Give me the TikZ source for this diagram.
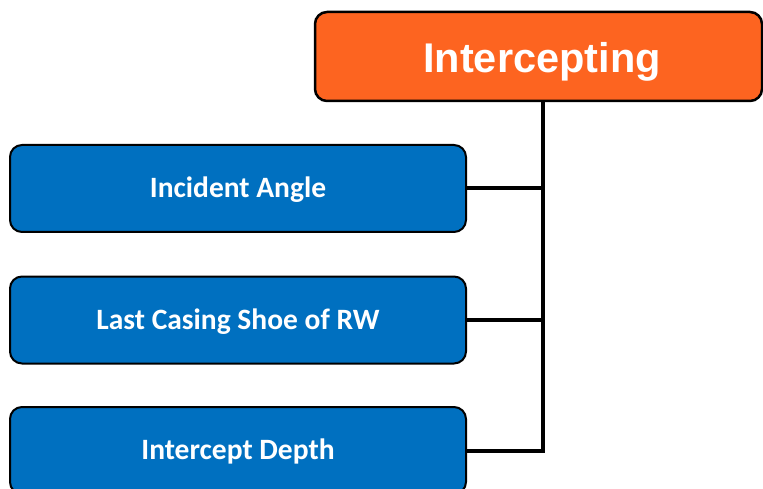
\documentclass[tikz,border=0pt]{standalone}
\usepackage{fontspec}
\newfontfamily\arialbf{Liberation Sans}[BoldFont=* Bold]
\newfontfamily\calibri{Carlito}[BoldFont=* Bold]
\definecolor{orangebox}{HTML}{FD6420}
\definecolor{bluebox}{HTML}{0070C0}
\begin{document}
\begin{tikzpicture}[x=1pt,y=-1pt,
  topbox/.style={draw=black,line width=2.5pt,fill=orangebox,rounded corners=12pt,
    minimum width=447pt,minimum height=89pt,inner sep=0pt,text height=33pt,text depth=0pt,
    text=white,font=\arialbf\bfseries\fontsize{41.5}{44}\selectfont},
  itembox/.style={draw=black,line width=2pt,fill=bluebox,rounded corners=12pt,
    minimum width=456pt,minimum height=87pt,inner sep=0pt,text height=18.5pt,text depth=0pt,
    text=white,font=\calibri\bfseries\fontsize{29.5}{32}\selectfont},
  conn/.style={line width=4pt,black}]
\useasboundingbox (0,0) rectangle (763,489);
\clip (0,0) rectangle (763,489);
\node[topbox] (top) at (538.5,56.5) {\hspace*{7pt}Intercepting};
\node[itembox] (a) at (238,188.5) {Incident Angle};
\node[itembox] (b) at (238,320) {Last Casing Shoe of RW};
\node[itembox] (c) at (238,450.5) {Intercept Depth};
\coordinate (j1) at (543,188.5);
\coordinate (j2) at (543,320);
\coordinate (j3) at (543,450.5);
\draw[conn] (top.south -| j1) -- (j3);
\draw[conn] (a.east) -- (j1);
\draw[conn] (b.east) -- (j2);
\draw[conn] (c.east) -- ([xshift=2pt]j3);
\end{tikzpicture}
\end{document}
